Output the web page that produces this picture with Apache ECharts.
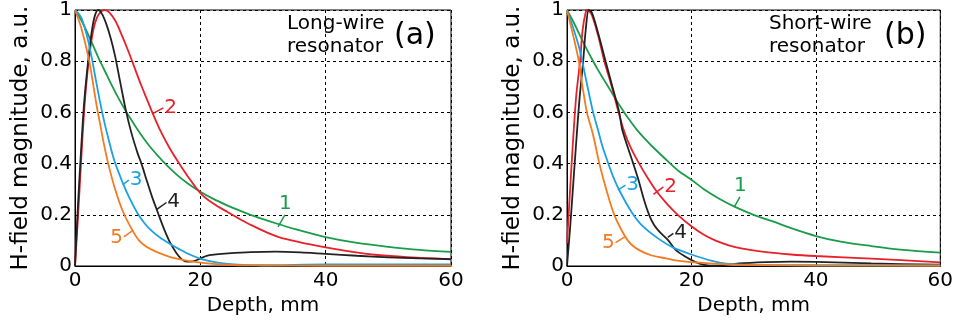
<!DOCTYPE html>
<html>
<head>
<meta charset="utf-8">
<script src="https://cdn.jsdelivr.net/npm/echarts@6/dist/echarts.min.js"></script>
<style>
  html, body { margin: 0; padding: 0; background: #fff; }
  #chart { width: 956px; height: 329px; }
</style>
</head>
<body>
<div id="chart"></div>
<script>
// x ticks / y ticks
const xTicks = [0, 20, 40, 60];
const yTicks = [0, 0.2, 0.4, 0.6, 0.8, 1];

// ---- (a) long-wire resonator ----
const a1x = [0, 1, 2, 3, 4, 5, 6, 7, 8, 9, 10, 11, 12, 14, 16, 18, 20, 22, 24, 26, 28, 30, 32, 35, 40, 45, 50, 55, 60];
const a1y = [1, 0.96, 0.91, 0.855, 0.8, 0.75, 0.7, 0.653, 0.61, 0.57, 0.532, 0.497, 0.465, 0.41, 0.362, 0.322, 0.29, 0.263, 0.24, 0.219, 0.2, 0.183, 0.167, 0.145, 0.113, 0.09, 0.075, 0.063, 0.055];

const a2x = [0, 0.5, 1, 1.5, 2, 2.5, 3, 3.5, 4, 4.7, 5.5, 6.5, 7.5, 8.5, 9.5, 10.5, 11.5, 12.5, 13.5, 15, 16.5, 18, 20, 22, 24.4, 27.6, 32.4, 40, 48.3, 60];
const a2y = [0, 0.2, 0.42, 0.62, 0.76, 0.86, 0.93, 0.97, 0.99, 1, 0.99, 0.955, 0.9, 0.84, 0.775, 0.71, 0.65, 0.59, 0.535, 0.465, 0.405, 0.35, 0.285, 0.245, 0.21, 0.166, 0.114, 0.073, 0.043, 0.026];

const a3x = [0, 1, 2, 2.7, 3.3, 4, 4.7, 5.3, 6.3, 7.7, 8.8, 10, 11, 11.9, 13.5, 15.1, 16.7, 18.3, 20.2, 23, 26, 30, 40, 50, 60];
const a3y = [1, 0.97, 0.89, 0.81, 0.73, 0.64, 0.56, 0.5, 0.41, 0.32, 0.26, 0.205, 0.17, 0.145, 0.112, 0.087, 0.065, 0.045, 0.027, 0.012, 0.005, 0.003, 0.006, 0.006, 0.006];

const a4x = [0, 0.5, 1.06, 1.5, 2.1, 2.7, 3.2, 3.7, 4.3, 5, 5.7, 6.4, 7.2, 8.1, 9, 10, 10.6, 11.5, 12.3, 13.2, 14.2, 15.2, 16.2, 17, 17.8, 18.8, 19.9, 21, 22.5, 24.4, 28, 32, 36, 40, 45, 50, 55, 60];
const a4y = [0, 0.25, 0.49, 0.65, 0.8, 0.92, 0.98, 1, 0.985, 0.945, 0.89, 0.82, 0.72, 0.61, 0.52, 0.44, 0.4, 0.33, 0.27, 0.21, 0.145, 0.09, 0.05, 0.027, 0.017, 0.018, 0.028, 0.04, 0.045, 0.049, 0.054, 0.056, 0.053, 0.047, 0.04, 0.034, 0.03, 0.027];

const a5x = [0, 1, 2.2, 2.9, 3.5, 4.2, 4.5, 5.3, 6.4, 7.7, 9.15, 10.2, 11.4, 13, 15.1, 17, 19.4, 22, 26, 30, 40, 60];
const a5y = [1, 0.93, 0.81, 0.71, 0.62, 0.53, 0.49, 0.4, 0.3, 0.21, 0.14, 0.1, 0.075, 0.055, 0.036, 0.025, 0.015, 0.008, 0.003, 0.002, 0.001, 0.001];

// ---- (b) short-wire resonator ----
const b1x = [0, 1, 2, 3, 4.2, 5, 6, 7, 8, 9.2, 10, 11.3, 12.8, 14, 16.4, 18, 20.1, 22, 24.4, 27, 30, 33.2, 36, 40, 44, 48.9, 54, 60];
const b1y = [1, 0.955, 0.905, 0.855, 0.8, 0.765, 0.725, 0.685, 0.645, 0.6, 0.572, 0.53, 0.49, 0.46, 0.405, 0.37, 0.335, 0.3, 0.264, 0.231, 0.2, 0.173, 0.148, 0.117, 0.095, 0.078, 0.063, 0.052];

const b2x = [0, 0.5, 1, 1.5, 2.1, 2.5, 3, 3.3, 4, 5, 6, 7.2, 8.3, 9, 9.75, 10.6, 11.6, 13, 14.3, 16, 17.8, 20, 22, 24, 26, 28, 32, 36, 40, 48.9, 60];
const b2y = [0.088, 0.3, 0.5, 0.67, 0.8, 0.92, 0.99, 1, 0.98, 0.9, 0.8, 0.7, 0.6, 0.54, 0.49, 0.445, 0.4, 0.343, 0.295, 0.245, 0.2, 0.155, 0.122, 0.098, 0.081, 0.069, 0.054, 0.045, 0.039, 0.029, 0.014];

const b3x = [0, 1, 2, 2.45, 3.3, 4.2, 5, 5.6, 6.5, 7.4, 8.4, 10.4, 12, 14.8, 17, 20, 23.3, 26, 30, 40, 60];
const b3y = [1, 0.93, 0.85, 0.8, 0.7, 0.6, 0.53, 0.475, 0.41, 0.35, 0.296, 0.21, 0.16, 0.105, 0.073, 0.045, 0.02, 0.008, 0.004, 0.003, 0.003];

const b4x = [0, 0.5, 1, 1.5, 2, 2.6, 3, 3.5, 4, 5, 6.2, 7.3, 8.4, 8.9, 10.65, 11.5, 12.3, 13.2, 14, 15, 16.1, 17, 17.5, 18.8, 20.1, 21.2, 22.3, 24, 27.6, 32, 36, 40, 48.9, 60];
const b4y = [0, 0.15, 0.32, 0.49, 0.65, 0.8, 0.92, 1, 0.99, 0.91, 0.8, 0.7, 0.6, 0.53, 0.4, 0.335, 0.265, 0.2, 0.16, 0.13, 0.105, 0.077, 0.062, 0.04, 0.022, 0.01, 0.003, 0.001, 0.01, 0.015, 0.017, 0.016, 0.01, 0.005];

const b5x = [0, 1, 1.9, 2.5, 3.2, 4, 4.4, 5.2, 6.3, 7.6, 9.3, 10.3, 11.6, 13.5, 15.9, 18, 21.2, 25, 30, 40, 60];
const b5y = [1, 0.9, 0.8, 0.7, 0.6, 0.53, 0.49, 0.4, 0.3, 0.2, 0.117, 0.085, 0.062, 0.042, 0.03, 0.02, 0.013, 0.007, 0.004, 0.002, 0.001];

// curve label leaders: [x1, y1, x2, y2]
const aLeaders = { "1": [32.4, 0.153, 33.5, 0.2], "2": [12.4, 0.595, 14.1, 0.618], "3": [7.6, 0.318, 8.6, 0.335], "4": [13, 0.22, 14.6, 0.248], "5": [9.3, 0.14, 7.8, 0.114] };
const bLeaders = { "1": [26.9, 0.231, 27.8, 0.27], "2": [13.9, 0.28, 15.5, 0.309], "3": [8.2, 0.296, 9.4, 0.316], "4": [16.2, 0.112, 17.1, 0.127], "5": [9.3, 0.114, 7.8, 0.091] };

const colors = { "1": "#1a9c4a", "2": "#e8202a", "3": "#1ba1e2", "4": "#222222", "5": "#f47b20" };
const FONT = "DejaVu Sans";

const chart = echarts.init(document.getElementById("chart"));

const pairs = (xs, ys) => xs.map((x, i) => [x, ys[i]]);

// one curve with its numbered leader
const curve = (idx, key, xs, ys, leader) => ({
    type: "line",
    xAxisIndex: idx,
    yAxisIndex: idx,
    data: pairs(xs, ys),
    smooth: 0.3,
    showSymbol: false,
    lineStyle: { color: colors[key], width: 1.8 },
    itemStyle: { color: colors[key] },
    markLine: {
        silent: true,
        symbol: ["none", "none"],
        lineStyle: { color: colors[key], width: 1.5, type: "solid" },
        label: { show: true, position: "end", formatter: key, color: colors[key], fontSize: 20, fontFamily: FONT, distance: 1 },
        data: [[{ coord: [leader[0], leader[1]] }, { coord: [leader[2], leader[3]] }]],
    },
});

const xAxis = (idx) => ({
    type: "value",
    gridIndex: idx,
    min: 0,
    max: 60,
    interval: 20,
    name: "Depth, mm",
    nameLocation: "middle",
    nameGap: 29,
    nameTextStyle: { color: "#000", fontSize: 20, fontFamily: FONT },
    axisLine: { lineStyle: { color: "#000", width: 1 } },
    axisTick: { show: false },
    axisLabel: { color: "#000", fontSize: 20, fontFamily: FONT, margin: 5,
        formatter: (v) => (xTicks.includes(v) ? String(v) : "") },
    splitLine: { lineStyle: { color: "#000", type: [3, 3], width: 1 } },
});

const yAxis = (idx) => ({
    type: "value",
    gridIndex: idx,
    min: 0,
    max: 1,
    interval: 0.2,
    name: "H-field magnitude, a.u.",
    nameLocation: "middle",
    nameGap: 42,
    nameTextStyle: { color: "#000", fontSize: 23, fontFamily: FONT },
    axisLine: { lineStyle: { color: "#000", width: 1 } },
    axisTick: { show: false },
    axisLabel: { color: "#000", fontSize: 20, fontFamily: FONT, margin: 3,
        formatter: (v) => {
            const t = yTicks.find((k) => Math.abs(k - v) < 1e-6);
            if (t === undefined) return "";
            return t === 0 || t === 1 ? String(t) : t.toFixed(1);
        } },
    splitLine: { lineStyle: { color: "#000", type: [3, 3], width: 1 } },
});

const option = {
    backgroundColor: "#fff",
    animation: false,
    grid: [
        { left: 75, top: 9, width: 376, height: 257, show: true, borderColor: "#000", borderWidth: 1 },
        { left: 567, top: 9, width: 376, height: 257, show: true, borderColor: "#000", borderWidth: 1 },
    ],
    xAxis: [xAxis(0), xAxis(1)],
    yAxis: [yAxis(0), yAxis(1)],
    graphic: [
        { type: "text", left: 287, top: 12, z: 10, style: { text: "Long-wire\nresonator", fontSize: 20, fontFamily: FONT, lineHeight: 23, fill: "#000" } },
        { type: "text", left: 394, top: 21, z: 10, style: { text: "(a)", fontSize: 30, fontFamily: FONT, fill: "#000" } },
        { type: "text", left: 769, top: 12, z: 10, style: { text: "Short-wire\nresonator", fontSize: 20, fontFamily: FONT, lineHeight: 23, fill: "#000" } },
        { type: "text", left: 884, top: 21, z: 10, style: { text: "(b)", fontSize: 30, fontFamily: FONT, fill: "#000" } },
    ],
    series: [
        curve(0, "1", a1x, a1y, aLeaders["1"]),
        curve(0, "2", a2x, a2y, aLeaders["2"]),
        curve(0, "4", a4x, a4y, aLeaders["4"]),
        curve(0, "3", a3x, a3y, aLeaders["3"]),
        curve(0, "5", a5x, a5y, aLeaders["5"]),
        curve(1, "1", b1x, b1y, bLeaders["1"]),
        curve(1, "2", b2x, b2y, bLeaders["2"]),
        curve(1, "4", b4x, b4y, bLeaders["4"]),
        curve(1, "3", b3x, b3y, bLeaders["3"]),
        curve(1, "5", b5x, b5y, bLeaders["5"]),
    ],
};

chart.setOption(option);
</script>
</body>
</html>
